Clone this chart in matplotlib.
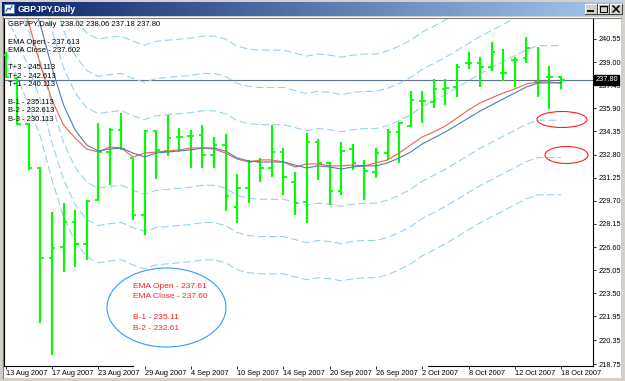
import numpy as np
import matplotlib.pyplot as plt
from matplotlib.patches import Ellipse, Rectangle
from matplotlib.colors import LinearSegmentedColormap

plt.rcParams['font.family'] = ['Liberation Sans', 'DejaVu Sans']
plt.rcParams['lines.scale_dashes'] = False

W, H = 625, 381

# GBPJPY daily bars, 13 Aug .. 18 Oct 2007
opens = [239.48, 237.93, 234.85, 231.90, 225.86, 226.60, 228.28, 226.80, 229.76, 232.97,
         234.45, 232.57, 228.75, 234.38, 233.04, 233.98, 234.05, 234.12, 232.77, 233.44,
         229.28, 230.56, 232.30, 231.90, 232.97, 230.96, 229.62, 233.65, 232.24, 230.36,
         233.18, 232.04, 231.63, 232.91, 234.32, 234.72, 236.39, 236.33, 237.20, 237.33,
         238.94, 238.94, 238.67, 238.27, 239.14, 239.28, 237.67, 238.00, 238.02]
highs = [239.68, 238.00, 234.92, 231.95, 228.95, 229.55, 229.08, 229.76, 234.92, 234.59,
         235.59, 232.57, 234.45, 234.45, 235.45, 234.59, 234.45, 234.79, 233.98, 234.18,
         231.50, 232.44, 232.57, 234.79, 233.24, 231.63, 234.25, 233.85, 232.30, 233.65,
         233.51, 232.44, 233.24, 234.52, 234.99, 237.06, 237.06, 237.87, 237.87, 238.87,
         239.68, 239.34, 240.35, 239.88, 239.34, 240.69, 240.01, 238.74, 238.06]
lows = [237.93, 234.79, 231.77, 221.50, 219.36, 224.92, 225.26, 225.73, 229.70, 230.76,
        233.11, 228.41, 227.41, 231.16, 232.71, 232.97, 231.90, 231.90, 231.90, 229.02,
        228.21, 229.55, 230.96, 231.30, 230.09, 228.75, 228.21, 231.10, 229.42, 230.09,
        231.77, 229.76, 231.23, 232.44, 232.24, 234.65, 234.92, 235.93, 236.13, 236.66,
        238.54, 237.33, 238.41, 237.73, 237.33, 238.94, 236.66, 235.86, 237.18]
closes = [238.00, 234.85, 231.90, 225.86, 226.53, 228.28, 226.80, 229.70, 232.97, 234.45,
          233.18, 228.75, 234.38, 233.11, 233.91, 233.98, 234.05, 232.77, 233.44, 230.02,
          230.56, 232.30, 231.90, 232.97, 231.30, 229.55, 233.65, 232.24, 230.36, 233.04,
          232.24, 231.70, 232.91, 234.32, 234.92, 236.46, 236.39, 237.20, 237.27, 238.67,
          238.94, 238.67, 239.68, 238.27, 239.14, 239.95, 237.67, 238.00, 237.80]

# EMA of open (blue) and EMA of close (red), one value per bar
ema_open = [247.19, 245.51, 243.57, 241.49, 238.61, 236.12, 234.45, 233.44, 233.04, 233.17,
            233.24, 232.90, 232.64, 232.90, 232.97, 233.04, 233.11, 233.24, 233.24, 233.04,
            232.57, 232.37, 232.30, 232.30, 232.30, 232.10, 231.90, 232.04, 231.97, 231.83,
            231.97, 232.04, 232.04, 232.24, 232.57, 232.97, 233.51, 233.91, 234.32, 234.78,
            235.25, 235.72, 236.12, 236.53, 236.93, 237.33, 237.60, 237.60, 237.61]
ema_close = [245.72, 243.77, 241.62, 238.81, 236.46, 234.78, 233.91, 233.17, 232.97, 233.31,
             233.24, 232.64, 232.90, 232.97, 233.04, 233.11, 233.24, 233.24, 233.17, 232.90,
             232.50, 232.30, 232.44, 232.44, 232.30, 231.97, 232.17, 232.17, 232.04, 232.04,
             232.10, 232.04, 232.24, 232.44, 232.90, 233.44, 233.98, 234.32, 234.72, 235.25,
             235.79, 236.26, 236.60, 236.93, 237.20, 237.53, 237.67, 237.67, 237.60]

# T+3 .. B-3 channel offsets around the EMA of open
band_off = [7.5, 5.0, 2.5, -2.5, -5.0, -7.5]

date_labels = ['13 Aug 2007', '17 Aug 2007', '23 Aug 2007', '29 Aug 2007', '4 Sep 2007',
               '10 Sep 2007', '14 Sep 2007', '20 Sep 2007', '26 Sep 2007', '2 Oct 2007',
               '8 Oct 2007', '12 Oct 2007', '18 Oct 2007']
price_ticks = [240.55, 239.00, 237.45, 235.90, 234.35, 232.80, 231.25, 229.70, 228.15,
               226.60, 225.05, 223.50, 221.95, 220.35, 218.75]
last_price = 237.80

info_lines = ['EMA Open - 237.613', 'EMA Close - 237.602', '',
              'T+3 - 245.113', 'T+2 - 242.613', 'T+1 - 240.113', '',
              'B-1 - 235.113', 'B-2 - 232.613', 'B-3 - 230.113']
note_lines = ['EMA Open - 237.61', 'EMA Close - 237.60', '', 'B-1 - 235.11', 'B-2 - 232.61']

n = len(opens)
idx = np.arange(n)
o = np.array(opens); h = np.array(highs); l = np.array(lows); c = np.array(closes)
eo = np.array(ema_open); ec = np.array(ema_close)

fig = plt.figure(figsize=(W / 100, H / 100), dpi=100, facecolor='#D4D0C8')


def px_axes(x0, y0, x1, y1, z):
    return fig.add_axes([x0 / W, 1 - y1 / H, (x1 - x0) / W, (y1 - y0) / H], zorder=z)


# window chrome
bg = px_axes(0, 0, W, H, 0)
cmap = LinearSegmentedColormap.from_list('tb', ['#0A246A', '#A6CAF0'])
bg.imshow(np.linspace(0, 1, 256)[None, :], cmap=cmap, aspect='auto', extent=(2, 623, 16, 2))
bg.set_xlim(0, W); bg.set_ylim(H, 0); bg.axis('off')
bg.add_patch(Rectangle((4, 4), 10, 9, fc='white', ec='#5A7FC0', lw=0.7))
bg.plot([6, 8, 10, 12], [11, 8, 9.5, 6], color='#2050A0', lw=0.8)
bg.text(18, 9.5, 'GBPJPY,Daily', color='white', fontsize=6.3, weight='bold',
        family=['Liberation Sans Narrow', 'Liberation Sans'], va='center')
for k, bx in enumerate([585, 597.5, 610]):
    bg.add_patch(Rectangle((bx, 4), 12, 10, fc='#D4D0C8', ec='none'))
    bg.plot([bx, bx + 12], [4.3, 4.3], color='white', lw=0.7)
    bg.plot([bx + 0.3, bx + 0.3], [4, 14], color='white', lw=0.7)
    bg.plot([bx, bx + 12], [13.7, 13.7], color='#404040', lw=0.7)
    bg.plot([bx + 11.7, bx + 11.7], [4, 14], color='#404040', lw=0.7)
    if k == 0:
        bg.plot([bx + 3, bx + 8], [11.3, 11.3], color='black', lw=1.3)
    elif k == 1:
        bg.add_patch(Rectangle((bx + 2.5, 6), 7, 6, fill=False, ec='black', lw=0.7))
        bg.plot([bx + 2.5, bx + 9.5], [6.4, 6.4], color='black', lw=1.0)
    else:
        bg.plot([bx + 3, bx + 9], [6, 12], color='black', lw=1.1)
        bg.plot([bx + 3, bx + 9], [12, 6], color='black', lw=1.1)
bg.add_patch(Rectangle((3, 17), 618, 361, fc='white', ec='none'))
bg.plot([3, 621], [17.5, 17.5], color='#808080', lw=0.8)
bg.plot([3.3, 3.3], [17, 378], color='#808080', lw=0.8)

# chart
ax = px_axes(4, 19, 593, 366, 1)
ax.set_facecolor('none')

ax.axhline(last_price, color='#5C7388', lw=0.8, zorder=1)
for off in band_off:
    ax.plot(idx, eo + off, color='#8FD0EE', lw=0.75, dashes=(5.5, 2.5), zorder=2)

tw = 0.3
ax.vlines(idx, l, h, color='#00FF00', lw=1.5, zorder=3)
ax.hlines(o, idx - tw, idx, color='#00FF00', lw=1.3, zorder=3)
ax.hlines(c, idx, idx + tw, color='#00FF00', lw=1.3, zorder=3)

ax.plot(idx, ec, color='#F0604A', lw=0.8, zorder=4)
ax.plot(idx, eo, color='#4A7DB5', lw=0.8, zorder=4)

ax.set_xlim(-0.147, 50.76)
ax.set_ylim(218.62, 241.89)

for s in ['top', 'bottom']:
    ax.spines[s].set_visible(False)
for s in ['left', 'right']:
    ax.spines[s].set_color('black')
    ax.spines[s].set_linewidth(0.8)
for a, b in [(0, 0.219), (0.72, 1.0)]:
    ax.plot([a, b], [0, 0], transform=ax.transAxes, color='black', lw=0.8, clip_on=False)

ax.set_xticks(idx[::4])
ax.set_xticklabels(date_labels, ha='left')
ax.tick_params(axis='x', length=2.2, width=0.6, pad=0.8, labelsize=5.3, colors='black')
ax.yaxis.tick_right()
ax.set_yticks(price_ticks)
ax.set_yticklabels(['%.2f' % v for v in price_ticks])
ax.tick_params(axis='y', length=2.2, width=0.6, pad=1.5, labelsize=5.3, colors='black')

ax.annotate('%.2f' % last_price, xy=(1, last_price), xycoords=('axes fraction', 'data'),
            xytext=(1.6, 0), textcoords='offset points', ha='left', va='center',
            color='white', fontsize=5.3,
            bbox=dict(boxstyle='square,pad=0.18', fc='black', ec='black'), annotation_clip=False)

# annotations drawn over the chart, in screen pixels
ov = px_axes(0, 0, W, H, 2)
ov.set_xlim(0, W); ov.set_ylim(H, 0); ov.axis('off')
ov.text(8, 25, 'GBPJPY,Daily  %.2f %.2f %.2f %.2f' % (o[-1], h[-1], l[-1], c[-1]),
        fontsize=5.5, va='center')
for k, t in enumerate(info_lines):
    ov.text(8, 42 + 8.6 * k, t, fontsize=5.5, va='center')

ov.add_patch(Ellipse((166.5, 307.5), 119, 79, fill=False, ec='#3399FF', lw=0.8))
for k, t in enumerate(note_lines):
    ov.text(133, 286 + 10.5 * k, t, fontsize=6, va='center', color='#FF2020')
ov.add_patch(Ellipse((562, 119.5), 50, 16, fill=False, ec='#FF2020', lw=0.8))
ov.add_patch(Ellipse((566.5, 155), 43, 17, fill=False, ec='#FF2020', lw=0.8))

fig.savefig('out.png', dpi=100, facecolor=fig.get_facecolor())
